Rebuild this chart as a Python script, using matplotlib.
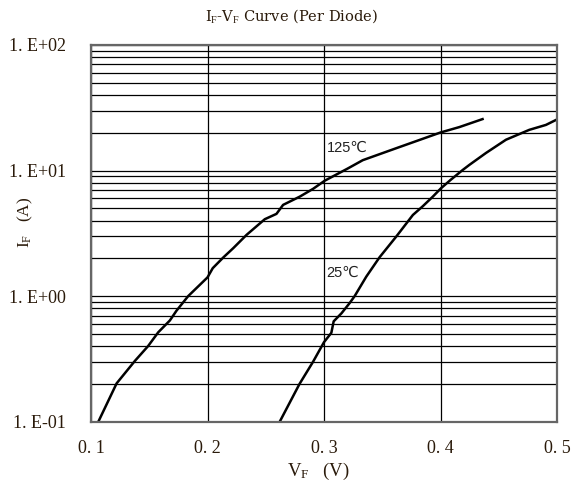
import matplotlib
matplotlib.use("Agg")
import matplotlib.pyplot as plt
from matplotlib.ticker import FixedLocator, NullFormatter

# 125 C curve (VF in V, IF in A)
v125 = [0.1063, 0.122, 0.1377, 0.149, 0.1577, 0.1677, 0.1734, 0.1834, 0.2,
        0.2045, 0.2135, 0.2221, 0.2336, 0.2492, 0.2592, 0.2649, 0.2792,
        0.2906, 0.3006, 0.3205, 0.3333, 0.3623, 0.4, 0.4162, 0.4361]
i125 = [0.1, 0.202, 0.305, 0.40, 0.515, 0.64, 0.766, 1.0, 1.41,
        1.67, 2.03, 2.41, 3.08, 4.1, 4.52, 5.33, 6.2,
        7.15, 8.3, 10.4, 12.1, 15.1, 20.1, 22.2, 25.7]
# 25 C curve
v25 = [0.262, 0.279, 0.2906, 0.3, 0.3063, 0.3083, 0.315, 0.322, 0.3263,
       0.3363, 0.3477, 0.362, 0.3763, 0.3848, 0.3934, 0.4005, 0.4085,
       0.419, 0.4248, 0.439, 0.4562, 0.4762, 0.4905, 0.4995]
i25 = [0.1, 0.20, 0.30, 0.43, 0.51, 0.63, 0.73, 0.88, 1.0,
       1.43, 2.04, 2.98, 4.43, 5.2, 6.2, 7.24, 8.4,
       10.1, 11.1, 13.8, 17.6, 21.1, 23.1, 25.4]

xticks = [0.1, 0.2, 0.3, 0.4, 0.5]
xlabels = ["0. 1", "0. 2", "0. 3", "0. 4", "0. 5"]
yticks = [0.1, 1, 10, 100]
ylabels = ["1. E-01", "1. E+00", "1. E+01", "1. E+02"]

plt.rcParams['mathtext.fontset'] = 'custom'
plt.rcParams['mathtext.rm'] = 'Liberation Serif'
plt.rcParams['mathtext.it'] = 'Liberation Serif'

serif = ['Liberation Serif', 'DejaVu Serif']
sans = ['Liberation Sans', 'DejaVu Sans']
ink = '#2a1a0a'

fig = plt.figure(figsize=(5.76, 4.95), dpi=100)
ax = fig.add_axes([91 / 576, 1 - 421.7 / 495, 466 / 576, 376.7 / 495])

ax.set_yscale('log')
ax.set_xlim(0.1, 0.5)
ax.set_ylim(0.1, 100)

minor = [m * 10.0 ** e for e in (-1, 0, 1) for m in range(2, 10)]
ax.yaxis.set_minor_locator(FixedLocator(minor))
ax.yaxis.set_minor_formatter(NullFormatter())
ax.set_yticks(yticks)
ax.set_yticklabels(ylabels, family=serif, fontsize=13, color=ink)
ax.set_xticks(xticks)
ax.set_xticklabels(xlabels, family=serif, fontsize=13, color=ink)
ax.tick_params(which='both', length=0)
ax.tick_params(axis='y', pad=18)
ax.tick_params(axis='x', pad=13)

ax.grid(True, which='both', axis='y', color='black', lw=0.9)
ax.grid(True, which='major', axis='x', color='black', lw=0.9)
for s in ax.spines.values():
    s.set_color('#666666')
    s.set_linewidth(1.6)

ax.plot(v125, i125, color='black', lw=1.8)
ax.plot(v25, i25, color='black', lw=1.8)

ax.text(0.3025, 14.0, "125℃", family=sans, fontsize=10.5, color='#222222')
ax.text(0.302, 1.43, "25℃", family=sans, fontsize=10.5, color='#222222')

fig.text(292 / 576, 1 - 16 / 495, r"I$_\mathrm{F}$-V$_\mathrm{F}$ Curve (Per Diode)",
         family=['DejaVu Serif'], fontsize=10.5, ha='center', va='center', color=ink)
fig.text(318 / 576, 1 - 471 / 495, r"V$_\mathrm{F}$   (V)",
         family=serif, fontsize=13.5, ha='center', va='center', color=ink)
fig.text(25 / 576, 1 - 222 / 495, r"I$_\mathrm{F}$   (A)", rotation=90,
         family=serif, fontsize=12.5, ha='center', va='center', color=ink)

fig.savefig("out.png", dpi=100, facecolor='white')
